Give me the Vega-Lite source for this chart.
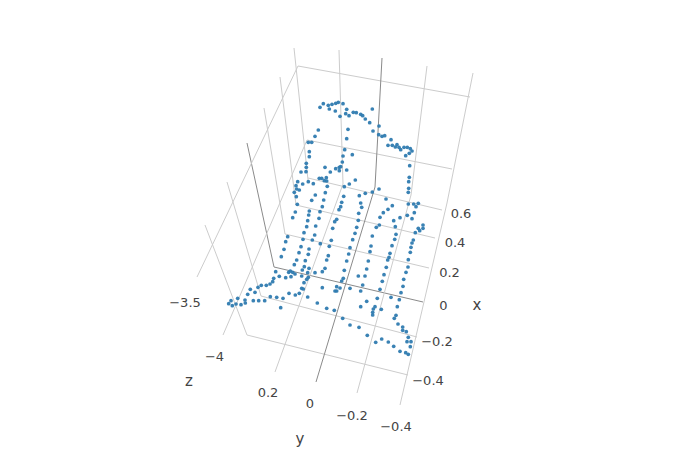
{"$schema":"https://vega.github.io/schema/vega-lite/v6.json","width":700,"height":450,"padding":0,"autosize":"none","background":"white","config":{"view":{"stroke":null}},
"layer":[
{"data":{"values":[
{"u":294,"v":48,"u2":308,"v2":180,"k":"grid"},{"u":280,"v":77,"u2":296,"v2":205,"k":"grid"},{"u":264,"v":108,"u2":285,"v2":234,"k":"grid"},{"u":247,"v":143,"u2":274,"v2":267,"k":"zero"},{"u":227,"v":182,"u2":261,"v2":296,"k":"grid"},{"u":205,"v":225,"u2":247,"v2":335,"k":"grid"},
{"u":308,"v":178,"u2":442,"v2":210,"k":"grid"},{"u":296,"v":205,"u2":435,"v2":238,"k":"grid"},{"u":285,"v":234,"u2":429,"v2":268,"k":"grid"},{"u":274,"v":267,"u2":423,"v2":302,"k":"zero"},{"u":261,"v":296,"u2":417,"v2":337,"k":"grid"},{"u":247,"v":335,"u2":408,"v2":375,"k":"grid"},
{"u":197,"v":277,"u2":298,"v2":66,"k":"grid"},{"u":298,"v":66,"u2":470,"v2":97,"k":"grid"},{"u":223,"v":335,"u2":307,"v2":140,"k":"grid"},{"u":307,"v":140,"u2":452,"v2":169,"k":"grid"},
{"u":339,"v":50,"u2":343,"v2":184,"k":"grid"},{"u":343,"v":184,"u2":275,"v2":372,"k":"grid"},{"u":382,"v":58,"u2":375,"v2":187,"k":"zero"},{"u":375,"v":187,"u2":316,"v2":382,"k":"zero"},{"u":427,"v":66,"u2":411,"v2":195,"k":"grid"},{"u":411,"v":195,"u2":357,"v2":393,"k":"grid"},{"u":473,"v":73,"u2":447,"v2":203,"k":"grid"},{"u":447,"v":203,"u2":400,"v2":405,"k":"grid"}
]},"mark":{"type":"rule","strokeWidth":1},"encoding":{
"x":{"field":"u","type":"quantitative","scale":{"domain":[0,700]},"axis":null},
"y":{"field":"v","type":"quantitative","scale":{"domain":[450,0]},"axis":null},
"x2":{"field":"u2"},"y2":{"field":"v2"},
"color":{"field":"k","type":"nominal","scale":{"domain":["grid","zero"],"range":["#cccccc","#8a8a8a"]},"legend":null}}},
{"data":{"values":[
[320,107.3],[323.3,103.7],[328.3,105.3],[329.3,109],[332,104.3],[335.7,103.3],[338.3,102.3],[335.3,111],[340,116.3],[318.3,130],[315,136.3],[308.3,142.3],[311.7,142.3],[309.3,151.7],[309.3,156.7],[306.3,163.3],[306.3,167.3],[301,172],[325,167.3],[330.3,172],[335.7,168.7],[339.3,167.3],[339.3,170.7],[319.3,178.3],[321.7,178.3],[326.3,177.7],
[343,103.7],[346.7,109.3],[345.7,113.7],[349,115.7],[353.3,112.3],[356.3,112.7],[360.7,114.3],[362.7,115.7],[365.3,119],[372.3,109],[369.7,122.7],[373,131],[379,126],[348,129.3],[346.7,138.7],[378.7,134.7],[382,136.3],[384.7,135.7],[391,139.7],[388,145.3],[392.3,145.3],[395.3,147],[397,144.7],[399,147.3],[400.7,149.7],[404,147.3],[407.3,147.3],[410.3,148.7],[412,151],[409.3,153.3],[405.7,155.7],[409.7,165.7],[409.3,177.3],[344.7,149.7],[352.3,154.7],[343,156],[342.3,162],[340.7,166.7],[346.7,170],[355.3,180],
[297.7,181.7],[296,185.7],[302.7,184],[308.3,181.7],[296.7,189],[299.3,190],[294.3,192.3],[296.3,196.7],[297.3,204.3],[295.3,212],[292.7,217.7],[308.7,215],[307.7,220.7],[306.7,226.7],[304,232.7],[303,239.3],[287.7,236.7],[285.7,241.7],[284,249.3],[281.3,256.7],[301,246.7],[299,252.7],[296.7,260],[294.3,264.7],[304.3,266.7],[305.3,260.7],[308.3,254.3],[309,249],[309.3,211],[309,268.3],
[306,171.7],[313.3,183.7],[324.3,180.7],[326.7,181],[327.3,186.3],[344.3,186.7],[349.3,184],[315.3,195],[325.3,192.7],[311.7,200.3],[323.7,200],[343.7,196.3],[359.3,195.7],[365.3,193.3],[372.3,192],[379,189],[386,199],[392.3,205.7],[360.7,203],[341.7,202.3],[340.7,206.7],[339,209.7],[322.3,206.7],[320,211.7],[361.7,207.3],[358.7,213.3],[388,209.3],[383.3,212.7],[380,217.3],[319,218.3],[336.7,219.3],[334.7,221.7],[358.3,220.3],[356.7,227.3],[332.7,228.3],[315.7,226],[379.3,225],[376.3,227.3],[393.7,220.7],[400,217.7],[314.7,235],[355,233.3],[331.3,240.3],[352.7,239.7],[372.3,236],[396,234.3],[312.3,240],[320.3,243.7],[371,246],[394.7,239.3],[329.3,246.3],[350,247.7],[392,245.7],[370,251.7],[390,253.3],[348.7,254],[328.3,255.7],
[408.7,181.7],[408.7,188.3],[408.3,192.3],[408.3,204],[413.7,204],[416,206.7],[418.3,203.3],[414.3,212.7],[407.3,215.3],[412,218.7],[423,225],[423,228.3],[418.3,228.3],[419.7,230.7],[415.3,232.7],[395.3,226.7],[413.3,240],[412,243],[411,247.3],[410.3,252.3],[387.7,260],[408.3,259.7],[408,267],[386.3,267.3],
[275.7,271.7],[279.3,276.3],[285.7,277.7],[291,276.7],[288.7,272.3],[290.3,271],[292.7,272.3],[295,274],[273.7,278.3],[272.7,281.7],[270,284],[266.3,285.3],[261.3,285.3],[258,287.3],[255,292.3],[250.3,289.3],[247.7,294.3],[237.7,298.3],[245,300],[245.3,303],[241,304.7],[236,304],[232.3,305.7],[228.7,303.7],[231,300.7],[253.3,300.7],[258.7,300.7],[264.7,300.7],[270.3,296.7],[276.7,297.3],[283,298.3],[289,293.3],[295.3,295],[299.3,293.3],[280.7,307.7],
[389,257.3],[326.7,260],[346.7,261],[368.3,261],[325,268.3],[302.3,270],[344.3,270.3],[366.7,269],[301.7,276],[307.7,272.7],[315,272.7],[322.3,271.7],[308.3,277.3],[306.7,279.3],[343.3,278.3],[358.3,276],[365,276],[382.3,281.3],[341.7,281],[304,282.7],[362.7,285],[301.7,288.3],[303.3,289],[322.3,287.7],[336.7,286.7],[340,288],[350,288.3],[380,289.3],[335,291],[336.7,291],[360.7,291],[307.7,297],[377.3,298.3],[366.7,301.3],[317.3,303],[375,306.7],[360.7,306.7],[373.3,309],[326.7,308.3],[334.3,310.3],[372.7,312.3],[372.7,315],[342.7,318.3],[350,325],[359,327.3],[367.3,335.3],[381.7,339],
[406,272.3],[384,274.7],[403.7,279.3],[403,286.3],[401,292.7],[391,297.3],[399.3,299.7],[397.3,306.7],[381.3,309.3],[396,315.3],[394.3,318.3],[398,324],[402.7,327],[402.7,330.3],[406.3,331.7],[408.3,337.3],[407,341.7],[411,341.7],[410.3,346.7],[388.3,342],[393.7,346.3],[400,351.3],[405.7,352.7],[408.3,354.3],[375.7,342.3]
]},"transform":[{"calculate":"datum[0]","as":"u"},{"calculate":"datum[1]","as":"v"}],"mark":{"type":"circle","size":14,"color":"#2f7bb0","opacity":0.95},"encoding":{
"x":{"field":"u","type":"quantitative","scale":{"domain":[0,700]},"axis":null},
"y":{"field":"v","type":"quantitative","scale":{"domain":[450,0]},"axis":null}}},
{"data":{"values":[
{"u":461,"v":214,"t":"0.6","s":13},{"u":455,"v":243,"t":"0.4","s":13},{"u":449.5,"v":273,"t":"0.2","s":13},{"u":443.5,"v":306,"t":"0","s":13},{"u":437,"v":342,"t":"−0.2","s":13},{"u":428,"v":381,"t":"−0.4","s":13},{"u":477,"v":305,"t":"x","s":15},
{"u":185,"v":302.5,"t":"−3.5","s":13},{"u":214.5,"v":357,"t":"−4","s":13},{"u":189,"v":381,"t":"z","s":15},
{"u":268,"v":393,"t":"0.2","s":13},{"u":310,"v":403.5,"t":"0","s":13},{"u":352,"v":416,"t":"−0.2","s":13},{"u":396,"v":427,"t":"−0.4","s":13},{"u":300,"v":439,"t":"y","s":15}
]},"mark":{"type":"text","font":"DejaVu Sans","color":"#444444","align":"center","baseline":"middle"},"encoding":{
"x":{"field":"u","type":"quantitative","scale":{"domain":[0,700]},"axis":null},
"y":{"field":"v","type":"quantitative","scale":{"domain":[450,0]},"axis":null},
"text":{"field":"t"},
"size":{"field":"s","type":"quantitative","scale":null}}}
]}
